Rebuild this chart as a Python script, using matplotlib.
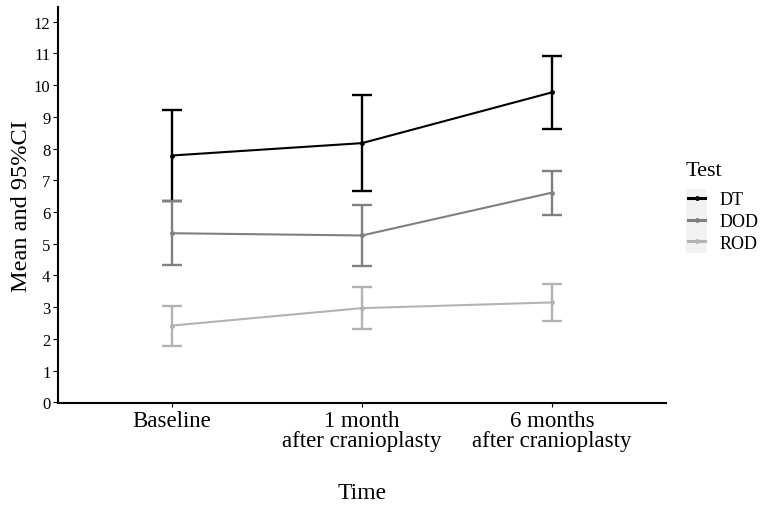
import matplotlib
matplotlib.use("Agg")
import matplotlib.pyplot as plt
from matplotlib.lines import Line2D
from matplotlib.patches import Rectangle
import numpy as np

times = ["Baseline", "1 month\nafter cranioplasty", "6 months\nafter cranioplasty"]
tests = ["DT", "DOD", "ROD"]
means = {"DT": [7.78, 8.17, 9.77], "DOD": [5.33, 5.26, 6.61], "ROD": [2.42, 2.97, 3.15]}
lower = {"DT": [6.35, 6.66, 8.62], "DOD": [4.34, 4.30, 5.90], "ROD": [1.79, 2.30, 2.57]}
upper = {"DT": [9.22, 9.69, 10.91], "DOD": [6.35, 6.23, 7.30], "ROD": [3.04, 3.64, 3.73]}
colors = {"DT": "#000000", "DOD": "#808080", "ROD": "#B3B3B3"}

plt.rcParams["font.family"] = ["Liberation Serif", "DejaVu Serif"]
fig = plt.figure(figsize=(7.6, 5.06), dpi=100)
ax = fig.add_axes([58/760, 1-404/506, (666-58)/760, (404-8)/506])

x = np.arange(len(times))
for t in tests:
    m = np.array(means[t]); lo = np.array(lower[t]); hi = np.array(upper[t])
    ax.errorbar(x, m, yerr=[m-lo, hi-m], color=colors[t], lw=1.5, elinewidth=1.7,
                capsize=7, capthick=1.7, marker="o", ms=2.5, zorder=3)

ax.set_xlim(-0.6, 2.6)
ax.set_ylim(-0.02, 12.46)
ax.set_yticks(range(0, 13))
ax.set_xticks(x)
ax.set_xticklabels(times, fontsize=16.5, linespacing=0.95)
ax.tick_params(axis="y", labelsize=12, length=3.5, width=0.8, pad=2)
ax.tick_params(axis="x", length=3, width=0.8, pad=2)
for s in ["top", "right"]:
    ax.spines[s].set_visible(False)
for s in ["left", "bottom"]:
    ax.spines[s].set_linewidth(1.5)
ax.set_ylabel("Mean and 95%CI", fontsize=17.5, labelpad=1)
ax.set_xlabel("Time", fontsize=17, labelpad=22)

fig.patches.append(Rectangle((686/760, 1-254/506), 21/760, 64/506, transform=fig.transFigure,
                             facecolor="#F2F2F2", edgecolor="none", zorder=-1))
fig.text(686/760, 1-171/506, "Test", fontsize=16, ha="left", va="center")
handles = [Line2D([0], [0], color=colors[t], lw=2.2, marker="o", ms=2.5) for t in tests]
leg = fig.legend(handles, tests, loc="center left",
                 bbox_to_anchor=(688/760, 1-222.5/506), frameon=False, fontsize=13,
                 handlelength=0.95, handletextpad=0.8,
                 labelspacing=0.25, borderpad=0, borderaxespad=0)

fig.savefig("out.png", dpi=100)
